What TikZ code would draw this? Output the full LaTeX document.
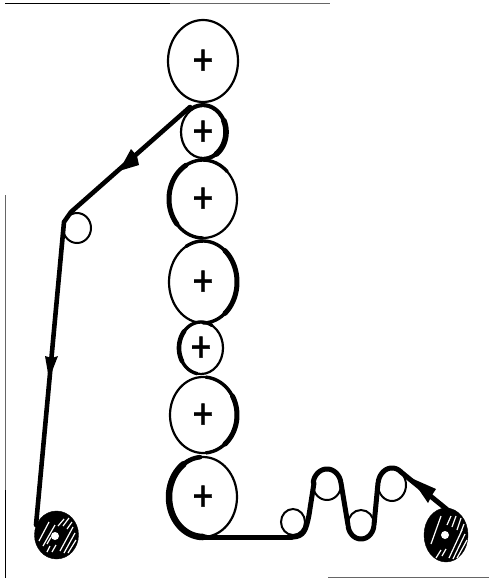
\documentclass[tikz,border=0pt]{standalone}
\usepackage{fontspec}
\setmainfont{Liberation Sans}
\newfontfamily\plusfont[FakeBold=1.2]{Liberation Sans}
\usetikzlibrary{shapes.geometric}
\tikzset{
  rollerbox/.style={draw=black,ellipse,inner sep=0pt,line width=2.2pt,fill=white},
  idlerbox/.style={draw=black,ellipse,inner sep=0pt,line width=2pt,fill=white},
  reelbox/.style={draw=black,fill=black,ellipse,inner sep=0pt},
  hubbox/.style={fill=white,circle,inner sep=0pt,minimum size=8pt},
  plusbox/.style={font=\plusfont\fontsize{36}{36}\selectfont,inner sep=0pt},
  web/.style={line width=5pt,line cap=round,line join=round},
  hatchline/.style={white,line width=1.2pt},
  scanline/.style={line width=1pt,black!60}
}
\newcommand{\webarc}[7]{\draw[web,line width=#7] plot[domain=#5:#6,samples=40,smooth] ({#1+#3*cos(\x)},{#2+#4*sin(\x)});}
\begin{document}
\begin{tikzpicture}[x=1pt,y=-1pt]
\useasboundingbox (0,0) rectangle (489,578);
\draw[scanline] (170,3.5) -- (330,3.5);
\draw[line width=1.2pt] (5,3.5) -- (170,3.5);
\draw[scanline] (5,195) -- (5,490);
\draw[line width=1pt] (5,490) -- (5,578);
\draw[scanline] (328,577) -- (489,577);
% main rollers
\node[rollerbox,minimum width=70pt,minimum height=82pt] (r1) at (203,61) {};
\node[rollerbox,minimum width=44pt,minimum height=52pt] (r2) at (203,132) {};
\node[rollerbox,minimum width=68pt,minimum height=78pt] (r3) at (203,199) {};
\node[rollerbox,minimum width=68pt,minimum height=82pt] (r4) at (203,282) {};
\node[rollerbox,minimum width=44pt,minimum height=52pt] (r5) at (201,348) {};
\node[rollerbox,minimum width=66pt,minimum height=76pt] (r6) at (203,415) {};
\node[rollerbox,minimum width=68pt,minimum height=80pt] (r7) at (203,497) {};
% idlers
\node[idlerbox,minimum width=28pt,minimum height=30pt] (i0) at (77,228) {};
\node[idlerbox,minimum width=24pt,minimum height=26pt] (i1) at (293,522) {};
\node[idlerbox,minimum width=28pt,minimum height=30pt] (i2) at (327,485) {};
\node[idlerbox,minimum width=26pt,minimum height=28pt] (i3) at (361,524) {};
\node[idlerbox,minimum width=28pt,minimum height=32pt] (i4) at (392,485) {};
% reels
\node[reelbox,minimum width=44pt,minimum height=48pt] (reelL) at (56.5,535) {};
\node[reelbox,minimum width=44pt,minimum height=54pt] (reelR) at (446,535) {};
\foreach \a/\b/\c/\d in {39/541/49/522, 43/546/55/525, 47/552/50/546, 52/552/56/545, 60/551/73/527, 64/553/75/533, 68/553/76/540, 58/526/64/519, 63/526/69/518, 67/529/72/522, 51/537/47/544}
  \draw[hatchline] (\a,\b) -- (\c,\d);
\foreach \a/\b/\c/\d in {431/544/441/516, 436/558/441/550, 442/556/446/549, 449/558/462/530, 453/559/465/534, 457/558/467/540, 447/525/451/516, 452/527/456/516, 457/530/461/518, 461/532/464/524}
  \draw[hatchline] (\a,\b) -- (\c,\d);
\node[hubbox] (hubL) at (55,536) {};
\node[hubbox] (hubR) at (445,535) {};
% web
\draw[web,line width=4.6pt] (36,525) -- (64,222) -- (71,212) -- (190,107);
\webarc{203}{132}{23}{27}{-125}{85}{3.8pt}
\webarc{203}{132}{23}{27}{-25}{55}{5.6pt}
\webarc{203}{199}{34}{39}{-45}{-270}{3.4pt}
\webarc{203}{199}{34}{39}{-120}{-220}{5pt}
\webarc{203}{282}{34}{41}{-120}{90}{3.4pt}
\webarc{203}{282}{34}{41}{-50}{50}{5pt}
\webarc{201}{348}{22}{26}{100}{300}{3.4pt}
\webarc{201}{348}{22}{26}{150}{220}{4.6pt}
\webarc{203}{415}{34}{38}{-85}{85}{3.4pt}
\webarc{203}{415}{34}{38}{-30}{50}{5pt}
\webarc{203}{497}{34}{40}{85}{265}{4.6pt}
\webarc{203}{497}{34}{40}{90}{235}{6.5pt}
\draw[web] (203,537) -- (292,537);
\draw[web] (292,537) .. controls (304,537) and (306,530) .. (309,515) -- (314,483);
\webarc{327}{485}{14}{16}{-170}{-10}{5pt}
\draw[web] (341,483) -- (348,525);
\webarc{361}{524}{13}{15}{170}{10}{5pt}
\draw[web] (374,525) -- (378,483);
\webarc{392}{485}{14}{17}{-170}{-50}{5pt}
\draw[web] (401,472) -- (450,512);
% arrowheads
\fill (131,149) -- (137,156) -- (139,165) -- (119,171) -- cycle;
\fill (45,356) -- (52,358) -- (58,356) -- (49,379) -- cycle;
\fill (411,478) -- (436,489) -- (432,495) -- (428,503) -- cycle;
% plus signs
\foreach \n in {r1,r2,r3,r4,r5,r6,r7}
  \node[plusbox,anchor=center] (p\n) at ([yshift=-1pt]\n) {\scalebox{1}[1.2]{+}};
\end{tikzpicture}
\end{document}
